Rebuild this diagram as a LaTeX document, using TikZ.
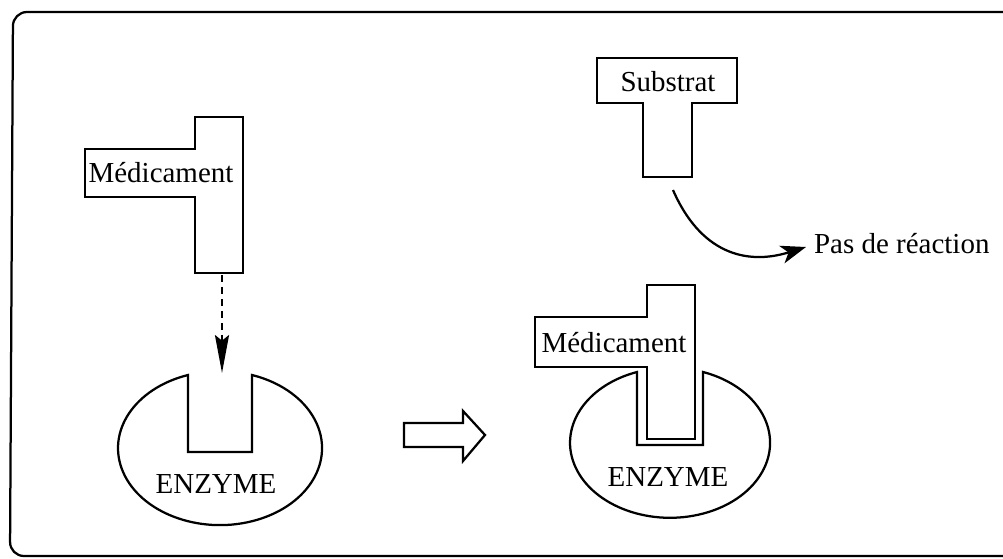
\documentclass[tikz,border=0pt]{standalone}
\usepackage{fontspec}
\setmainfont{Liberation Serif}
\usetikzlibrary{arrows.meta}
\begin{document}
\begin{tikzpicture}[x=0.025cm,y=-0.025cm,line width=1.6pt,
    lbl/.style={font=\fontsize{20.6}{24}\selectfont,inner sep=0pt}]
\useasboundingbox (0,0) rectangle (1003,558);
\draw[rounded corners=0.35cm] (1010,12) -- (13,12) -- (10,556) -- (1010,556);
\draw (195,117) -- (243,117) -- (243,273) -- (195,273) -- (195,197) -- (85,197) -- (85,149) -- (195,149) -- cycle;
\node[lbl] (medA) at (161,173) {Médicament};
\coordinate (medAbot) at (222,275);
\draw (188,375) arc[start angle=-108.3,end angle=-431.7,x radius=102,y radius=77] -- (252,452) -- (188,452) -- cycle;
\node[lbl] (enzA) at (216,484) {ENZYME};
\coordinate (enzAtop) at (222,373);
\draw[dash pattern=on 5pt off 3.5pt,-{Stealth[length=27pt,width=10pt,inset=4pt]}] (medAbot) -- (enzAtop);
\draw (404,423) -- (463,423) -- (463,411) -- (485,435) -- (463,461) -- (463,447) -- (404,447) -- cycle;
\draw (597,58) -- (737,58) -- (737,103) -- (692,103) -- (692,177) -- (643,177) -- (643,103) -- (597,103) -- cycle;
\node[lbl] (sub) at (668,82) {Substrat};
\coordinate (subbot) at (673,190);
\node[lbl,anchor=west] (pas) at (813,244) {Pas de réaction};
\coordinate (pasin) at (806,247);
\draw[-{Stealth[length=18pt,width=13pt,inset=5pt]}] (subbot) .. controls (700,252) and (745,266) .. (pasin);
\draw (637,372) arc[start angle=-109.3,end angle=-430.7,x radius=100,y radius=75] -- (703,445) -- (637,445) -- cycle;
\draw[fill=white] (647,285) -- (695,285) -- (695,439) -- (647,439) -- (647,367) -- (535,367) -- (535,317) -- (647,317) -- cycle;
\node[lbl] (medB) at (614,343) {Médicament};
\node[lbl] (enzB) at (668,477) {ENZYME};
\end{tikzpicture}
\end{document}
